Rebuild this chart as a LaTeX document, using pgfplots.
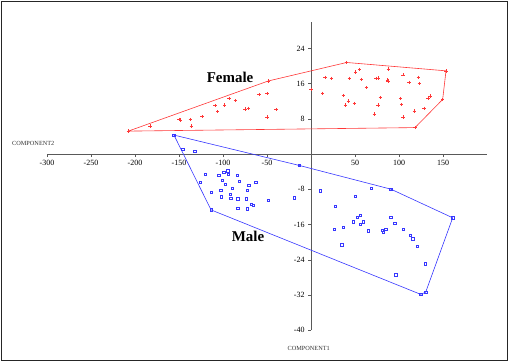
\documentclass[border=0pt]{standalone}
\usepackage{pgfplots}
\pgfplotsset{compat=1.18}
\usepackage{fontspec}
\setmainfont{Liberation Serif}
\definecolor{fred}{RGB}{255,55,55}
\definecolor{mblue}{RGB}{55,55,255}
\pgfplotstableread{
x y
-207.6 5.2
-183 6.4
-150 7.9
-148 7.7
-137 7.8
-136 6.4
-124 8.5
-109 11.0
-106 9.6
-98 11.1
-93 12.6
-86 12.1
-75 10.2
-71 10.4
-59 13.5
-50 13.7
-50 8.4
-40 10.1
-48.5 16.6
0 14.7
13.3 13.8
15.9 17.4
23.5 17.2
36.7 13.3
39.4 11.1
42.8 12.0
49.2 11.5
43.6 17.2
50.8 18.6
55.3 19.2
57.2 16.9
62.9 15.1
72 9.1
76.1 11.1
78.8 12.8
73.9 17.2
76.9 17.3
87.1 16.8
87.9 19.3
87.5 16.6
101.9 12.6
103 11.2
104.5 8.4
104.5 18.0
111.4 16.3
117.4 9.8
122 17.4
123 16.0
128.4 10.4
133 12.7
136 13.2
40.5 20.8
153.4 18.9
149.6 12.4
118.2 6.0
}\female
\pgfplotstableread{
x y
-207.6 5.2
-48.5 16.6
40.5 20.8
153.4 18.9
149.6 12.4
118.2 6.0
-207.6 5.2
}\femalehull
\pgfplotstableread{
x y
-155.7 4.3
-145.8 1.1
-131.8 0.6
-113.6 -12.7
-126 -6.4
-120 -4.6
-113.6 -8.7
-105 -4.8
-102.3 -8.3
-102 -9.7
-100.8 -6.0
-99.2 -4.2
-97.3 -6.9
-94.7 -3.8
-94 -4.6
-92 -9.2
-91 -10.1
-89.4 -7.8
-83.7 -4.8
-83 -10.2
-83 -12.3
-81.4 -6.2
-73.5 -10.2
-72.7 -8.2
-72.3 -12.5
-70.5 -7.1
-67.8 -11.4
-65.6 -11.6
-62.5 -6.4
-48.5 -10.5
-19 -10.0
-13.3 -2.6
10.5 -8.4
27.3 -11.9
26.5 -17.1
36.7 -16.7
34.9 -20.6
50.4 -9.6
48.1 -15.4
52.7 -14.4
56 -13.9
56 -16
59.5 -15.4
64.8 -17.5
68.6 -7.8
80.7 -17.3
82.2 -17.8
85.2 -17.1
90.9 -14.4
95.1 -15.8
96.6 -27.4
104.9 -17.1
112.9 -18.5
115.6 -19.3
120.8 -21
129.9 -24.9
90.9 -8.0
161 -14.5
130.3 -31.4
124.7 -31.9
}\male
\pgfplotstableread{
x y
-155.7 4.3
-13.3 -2.6
90.9 -8.0
161 -14.5
130.3 -31.4
124.7 -31.9
-113.6 -12.7
-155.7 4.3
}\malehull
\begin{document}
\begin{tikzpicture}[x=1bp,y=1bp]
\useasboundingbox (0,0) rectangle (509,362);
\draw[line width=1.6bp, black!85] (1.6,1.6) rectangle (507.4,360.4);
\begin{axis}[
  at={(47bp,32bp)}, anchor=south west,
  x=0.88bp, y=4.4bp,
  xmin=-300, xmax=200, ymin=-40, ymax=30,
  axis lines=middle,
  axis line style={draw=black!65, -},
  xtick={-300,-250,-200,-150,-100,-50,50,100,150},
  ytick={-40,-32,-24,-16,-8,8,16,24},
  tick align=outside,
  major tick length=3bp,
  tick style={black!65},
  ticklabel style={font=\fontsize{8}{9}\selectfont},
  /pgf/number format/assume math mode=true,
  clip=false,
]
\addplot[fred, line width=0.6bp, no marks] table {\femalehull};
\addplot[mblue, line width=0.6bp, no marks] table {\malehull};
\addplot[only marks, mark=+, mark size=1.7bp, draw=fred, mark options={draw=fred, line width=0.55bp}] table {\female};
\addplot[only marks, mark=square, mark size=1.25bp, draw=mblue, mark options={draw=mblue, line width=0.55bp}] table {\male};
\node[font=\fontsize{15}{17}\selectfont\bfseries] at (axis cs:-92,17.5) {Female};
\node[font=\fontsize{15}{17}\selectfont\bfseries] at (axis cs:-71.6,-18.8) {Male};
\node[font=\fontsize{6.3}{7}\selectfont, text=black!80] at (axis cs:-2.6,-44.3) {COMPONENT1};
\node[font=\fontsize{6.3}{7}\selectfont, text=black!80] at (axis cs:-315.6,2.4) {COMPONENT2};
\end{axis}
\end{tikzpicture}
\end{document}
